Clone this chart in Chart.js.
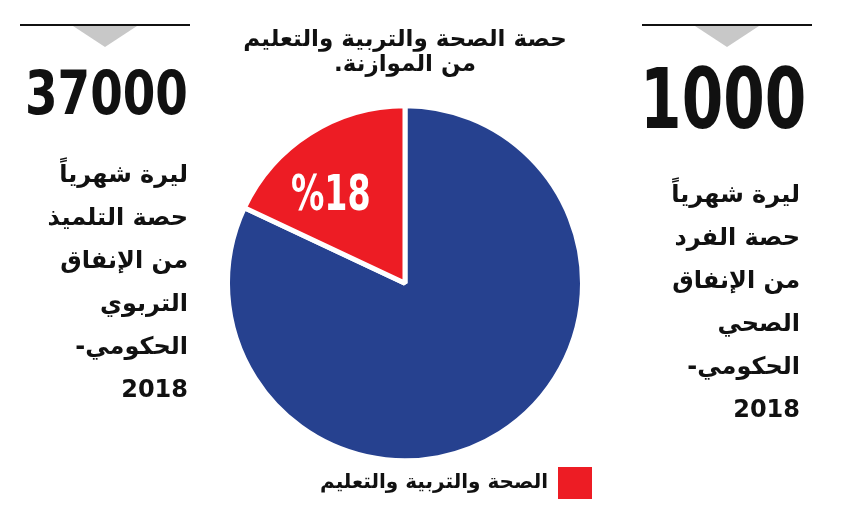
<!DOCTYPE html>
<html lang="ar">
<head>
<meta charset="utf-8">
<script src="https://cdn.jsdelivr.net/npm/chart.js@4.4.1/dist/chart.umd.min.js"></script>
<style>
  html, body { margin: 0; padding: 0; background: #fff; }
  #page { position: relative; width: 846px; height: 523px; overflow: hidden; font-family: 'DejaVu Sans', sans-serif; }
  #chartBox { position: absolute; left: 0; top: 0; width: 846px; height: 523px; }
  .rule { position: absolute; top: 24px; height: 2px; background: #111; }
  .tri { position: absolute; top: 26px; width: 0; height: 0;
         border-left: 32px solid transparent; border-right: 32px solid transparent; border-top: 21px solid #c8c8c8; }
  .big { position: absolute; font-family: 'Liberation Sans Narrow', 'DejaVu Sans Condensed', sans-serif;
         font-weight: bold; color: #111; line-height: 1; white-space: nowrap; transform-origin: right top; }
  .note { position: absolute; direction: rtl; text-align: right; font-weight: bold; font-size: 24px;
          line-height: 43px; color: #111; white-space: nowrap; }
</style>
</head>
<body>
<div id="page">
  <div id="chartBox"><canvas id="chart" dir="rtl"></canvas></div>

  <div class="rule" style="left:20px; width:170px;"></div>
  <div class="tri" style="left:73px;"></div>
  <div class="big" id="leftNum" style="right:658px; top:62px; font-size:61px;"></div>
  <div class="note" id="leftNote" style="right:658px; top:153px;"></div>

  <div class="rule" style="left:642px; width:170px;"></div>
  <div class="tri" style="left:695px;"></div>
  <div class="big" id="rightNum" style="right:40px; top:57px; font-size:84px;"></div>
  <div class="note" id="rightNote" style="right:46px; top:173px;"></div>
</div>

<script>
// pie data: blue = rest of the budget, red = health + education
const sliceLabels = ["باقي الموازنة", "الصحة والتربية والتعليم"];
const sliceValues = [82, 18];
const sliceColors = ["#26418f", "#ed1c24"];
const titleLines = ["حصة الصحة والتربية والتعليم", "من الموازنة."];

// side figures
const leftNumber = "37000";
const leftNote = ["ليرة شهرياً", "حصة التلميذ", "من الإنفاق", "التربوي", "الحكومي-", "2018"];
const rightNumber = "1000";
const rightNote = ["ليرة شهرياً", "حصة الفرد", "من الإنفاق", "الصحي", "الحكومي-", "2018"];

document.getElementById("leftNum").textContent = leftNumber;
document.getElementById("rightNum").textContent = rightNumber;
document.getElementById("leftNote").innerHTML = leftNote.map((t) => "<div>" + t + "</div>").join("");
document.getElementById("rightNote").innerHTML = rightNote.map((t) => "<div>" + t + "</div>").join("");

// squeeze/stretch the big numbers to the width they take in the picture
function fitWidth(id, w) {
  const el = document.getElementById(id);
  el.style.transform = "scaleX(" + (w / el.offsetWidth) + ")";
}
fitWidth("leftNum", 163);
fitWidth("rightNum", 166);

Chart.defaults.font.family = "'DejaVu Sans', sans-serif";
Chart.defaults.color = "#111";

// white "%18" inside the red slice, condensed like the original
const pctLabel = {
  id: "pctLabel",
  afterDatasetsDraw(chart) {
    const arc = chart.getDatasetMeta(0).data[1];
    const ang = arc.startAngle + (arc.endAngle - arc.startAngle) * 0.37;
    const r = arc.outerRadius * 0.64;
    const ctx = chart.ctx;
    ctx.save();
    ctx.translate(arc.x + Math.cos(ang) * r, arc.y + Math.sin(ang) * r);
    ctx.scale(0.74, 1);
    ctx.direction = "ltr";
    ctx.font = "bold 50px 'Liberation Sans Narrow', 'DejaVu Sans Condensed', sans-serif";
    ctx.fillStyle = "#fff";
    ctx.textAlign = "center";
    ctx.textBaseline = "middle";
    ctx.fillText("%" + sliceValues[1], 0, 0);
    ctx.restore();
  },
};

// the legend sits a little right of the pie in the original
const legendNudge = {
  id: "legendNudge",
  afterLayout(chart) {
    chart.legend.left += 7;
    chart.legend.right += 7;
  },
};

const baseLabels = Chart.controllers.pie.overrides.plugins.legend.labels.generateLabels;

new Chart(document.getElementById("chart"), {
  type: "pie",
  data: {
    labels: sliceLabels,
    datasets: [
      {
        data: sliceValues,
        backgroundColor: sliceColors,
        borderColor: "#fff",
        borderWidth: 5,
      },
    ],
  },
  options: {
    responsive: true,
    maintainAspectRatio: false,
    animation: false,
    layout: { padding: { left: 225, right: 261, top: 27, bottom: 14 } },
    plugins: {
      title: {
        display: true,
        text: titleLines,
        color: "#111",
        font: { size: 23, weight: "bold", lineHeight: 1.1 },
        padding: { top: 0, bottom: 22 },
      },
      legend: {
        display: true,
        position: "bottom",
        align: "start",
        rtl: true,
        textDirection: "rtl",
        labels: {
          boxWidth: 34,
          boxHeight: 32,
          padding: 0,
          color: "#111",
          font: { size: 20, weight: "bold" },
          generateLabels: (chart) => baseLabels(chart).map((it) => ({ ...it, lineWidth: 0 })),
          filter: (item) => item.index === 1,
        },
      },
      tooltip: { enabled: false },
    },
  },
  plugins: [pctLabel, legendNudge],
});
</script>
</body>
</html>
